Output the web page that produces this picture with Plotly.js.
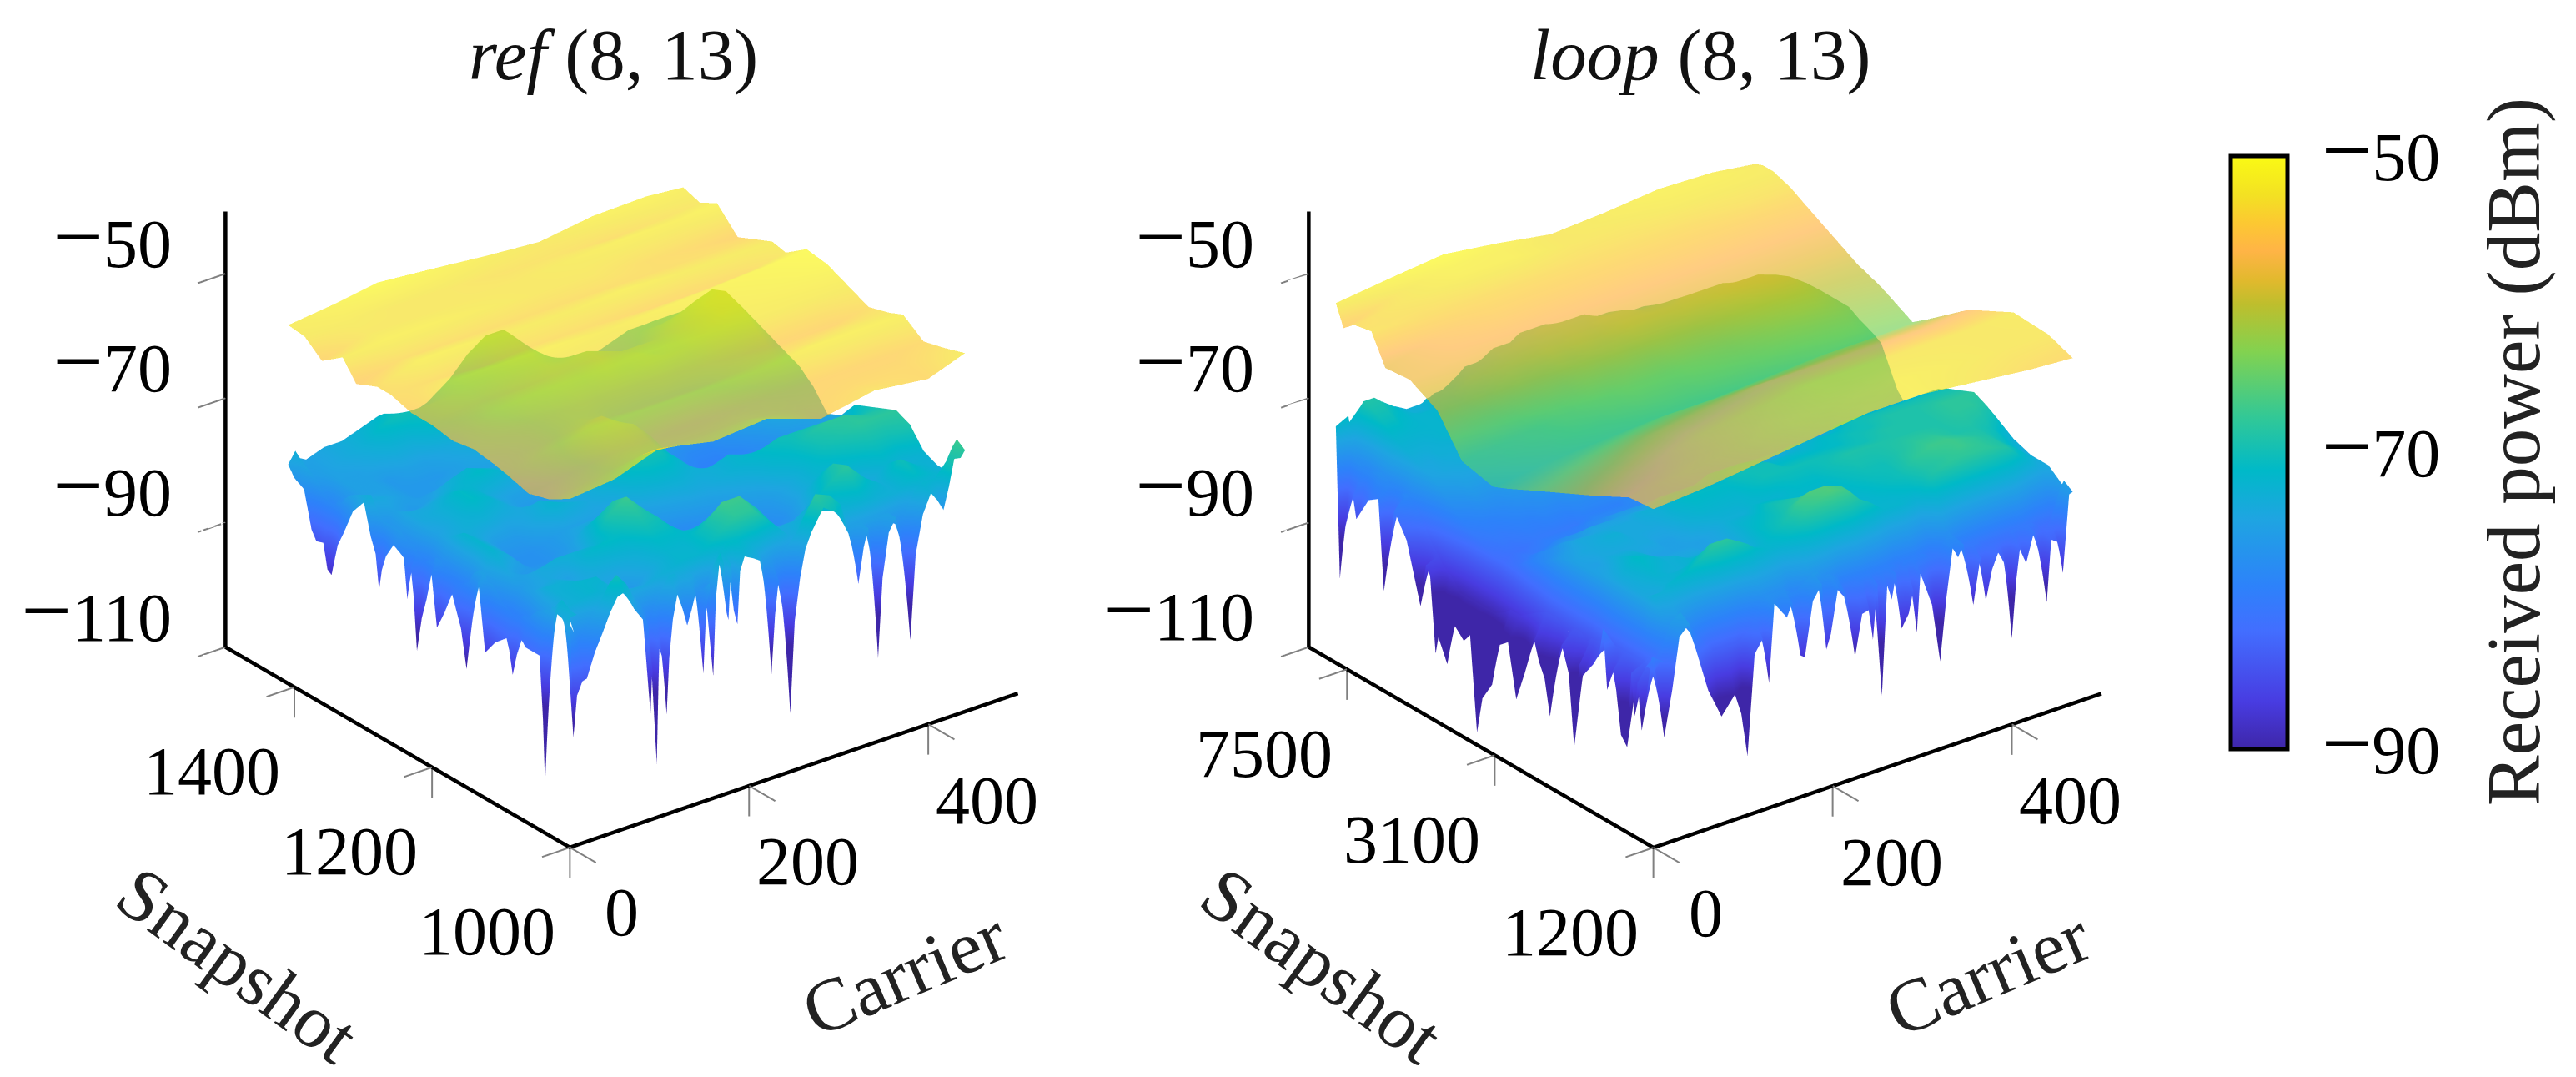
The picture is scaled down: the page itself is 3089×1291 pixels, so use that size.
<!DOCTYPE html>
<html><head><meta charset="utf-8"><script src="https://cdn.plot.ly/plotly-3.0.1.min.js"></script>
<style>html,body{margin:0;padding:0;background:#fff}</style></head><body><div id="c" style="width:3089px;height:1291px"></div>
<script>
// ---- data (dBm) ----
// ref: lower surface, interior
var refCarrierLow=[8,20,40,60,80,100,120,140,160,180,200,220,240,260,280,300,320,340,360,380,400,420,441];
var refSnapLow=[1012,1020,1040,1060,1080,1100,1120,1140,1160,1180,1200,1220,1240,1260,1280,1300,1320,1340,1360,1380,1400,1409];
var refLow=[
[-74,-80,-75,-71,-76,-80,-74,-75,-78,-73,-72,-74,-78,-75,-69,-70,-76,-76,-76,-78,-73,-73,-68],
[-73,-73,-72,-73,-74,-74,-73,-72,-72,-70,-68,-68,-71,-74,-72,-72,-73,-72,-73,-73,-71,-72,-73],
[-76,-73,-72,-72,-75,-76,-74,-72,-72,-70,-67,-67,-70,-74,-74,-72,-70,-68,-71,-73,-70,-72,-73],
[-78,-73,-73,-74,-74,-74,-73,-71,-71,-72,-71,-71,-73,-76,-77,-76,-72,-69,-72,-74,-72,-73,-72],
[-80,-75,-74,-75,-72,-71,-71,-69,-70,-73,-75,-76,-77,-78,-78,-77,-74,-72,-72,-71,-70,-70,-69],
[-80,-76,-74,-73,-73,-73,-69,-67,-70,-75,-77,-78,-78,-78,-77,-76,-74,-72,-70,-69,-68,-68,-68],
[-78,-74,-76,-76,-76,-75,-71,-69,-72,-76,-78,-78,-77,-76,-75,-74,-72,-71,-69,-68,-68,-69,-69],
[-76,-72,-74,-77,-77,-76,-74,-73,-75,-77,-76,-75,-74,-74,-73,-72,-71,-70,-70,-70,-71,-71,-70],
[-80,-72,-74,-77,-77,-76,-75,-75,-75,-75,-73,-72,-72,-73,-73,-72,-73,-74,-74,-74,-74,-73,-71],
[-80,-72,-74,-76,-76,-74,-72,-73,-74,-73,-71,-70,-70,-72,-75,-77,-79,-79,-78,-78,-77,-76,-74],
[-78,-74,-73,-73,-74,-74,-73,-75,-74,-72,-69,-68,-69,-72,-75,-78,-80,-80,-79,-78,-76,-75,-75],
[-80,-75,-73,-71,-72,-74,-76,-76,-74,-71,-68,-67,-68,-71,-75,-78,-79,-79,-78,-76,-73,-72,-72],
[-78,-74,-73,-71,-72,-74,-75,-75,-73,-71,-68,-67,-69,-72,-75,-77,-78,-78,-76,-73,-71,-70,-70],
[-77,-74,-74,-73,-72,-71,-72,-74,-73,-72,-70,-69,-70,-72,-73,-74,-75,-75,-73,-70,-68,-67,-69],
[-77,-75,-76,-75,-73,-72,-73,-74,-74,-73,-71,-70,-70,-71,-71,-71,-70,-70,-69,-67,-66,-65,-68],
[-74,-74,-75,-76,-76,-75,-75,-75,-74,-73,-71,-70,-69,-69,-68,-68,-67,-67,-67,-65,-63,-63,-67],
[-75,-75,-75,-76,-76,-76,-75,-74,-73,-72,-70,-69,-68,-68,-66,-67,-67,-68,-67,-65,-63,-62,-66],
[-78,-75,-75,-76,-75,-75,-74,-73,-72,-71,-69,-68,-67,-67,-66,-67,-68,-68,-68,-66,-64,-63,-67],
[-79,-75,-75,-74,-73,-73,-71,-70,-70,-70,-69,-68,-67,-68,-68,-69,-70,-70,-70,-68,-67,-66,-69],
[-76,-75,-74,-73,-71,-70,-70,-70,-70,-70,-69,-67,-66,-68,-70,-72,-72,-72,-72,-70,-70,-69,-72],
[-75,-75,-74,-73,-72,-71,-72,-72,-71,-70,-68,-66,-65,-68,-71,-73,-74,-74,-73,-72,-71,-71,-73],
[-74,-75,-74,-74,-73,-72,-73,-74,-72,-70,-67,-65,-65,-69,-72,-74,-75,-74,-73,-72,-72,-72,-75]];
// ref: lower surface, front edge (snapshot 1000) with its spikes
var refFrontX=[0,2,4,8,14,19,28,36,45,53,61,72,82,88,90,92,95,97,99,100,104,108,111,115,120,126,131,136,140,145,149,152,156,158,160,163,168,172,175,177,180,183,187,190,195,205,215,220,225,229,233,240,246,251,257,263,270,283,299,311,317,322,328,333,339,344,349,356,364,372,380,386,394,403,410,417,423,429,436,441];
var refFrontY=[1000,1012];
var refFront=[
[-73,-82,-92.5,-86,-84,-83.8,-80,-77.5,-74.5,-72.4,-72,-75.3,-77.5,-79,-93,-86,-90,-101.4,-88,-83,-85,-94,-85,-79,-75.3,-78,-80.8,-78.5,-76.3,-79,-89.4,-80,-75.3,-80,-90.4,-78,-71,-73,-81,-82.2,-73.5,-81,-83.4,-75,-72.9,-73.7,-74.7,-82,-93.3,-84,-78.6,-86,-100.7,-86,-79.4,-75,-72.6,-69.4,-71,-75,-78.5,-83.6,-78,-75.2,-83,-96.6,-84,-77,-75,-81,-95.5,-82,-76,-73,-74.5,-76.4,-73,-68.8,-69,-68],
[-74,-74,-74,-75,-77,-79,-77,-75,-73,-71,-70,-72,-75,-76,-77,-77,-78,-78,-79,-79,-77,-76,-75,-74,-73,-73,-74,-74,-74,-74,-75,-76,-77,-77,-77,-76,-74,-73,-72,-72,-72,-71,-71,-71,-71,-72,-73,-73,-74,-75,-76,-77,-76,-75,-74,-73,-71,-68,-69,-71,-74,-75,-75,-75,-75,-75,-75,-75,-75,-76,-77,-75,-73,-72,-72,-72,-71,-70,-68,-67]];
// ref: lower surface, side edge (carrier 0) with its spikes
var refSideX=[0,8];
var refSideY=[1000,1008,1022,1028,1033,1036,1039,1044,1056,1064,1070,1077,1083,1088,1092,1108,1123,1130,1133,1142,1150,1158,1171,1182,1193,1197,1201,1205,1208,1215,1222,1227,1231,1236,1241,1246,1256,1267,1273,1277,1282,1289,1299,1315,1329,1337,1342,1346,1352,1358,1368,1375,1386,1400,1409];
var refSideA=[-73,-74,-73.6,-82,-94,-102.2,-92,-82,-82,-82,-81.2,-84,-87.6,-84,-82.3,-84,-86.6,-79,-75.9,-83,-91,-85,-80.3,-84,-87.1,-83,-78.9,-81,-83.5,-87,-92.7,-84,-79.9,-85.3,-79,-78.6,-77.9,-80.4,-83,-86.5,-81,-78.7,-73.8,-76.3,-80.8,-83.1,-86,-88.5,-88,-84.1,-84.5,-83.1,-77.3,-76.4,-74.8];
var refSideB=[-73,-73,-72,-73,-74,-74,-75,-75,-76,-77,-78,-78,-79,-79,-79,-78,-76,-76,-75,-75,-76,-78,-79,-79,-78,-77,-77,-77,-78,-78,-79,-78,-78,-77,-77,-77,-76,-76,-76,-76,-76,-75,-73,-74,-75,-76,-77,-77,-78,-78,-77,-76,-75,-74,-73];
// ref: upper surface
var refCarrierUp=[0,50,100,160,220,280,340,400,441];
var refSnapUp=[1000,1030,1060,1090,1110,1140,1170,1200,1230,1260,1280,1310,1330,1360,1385,1409];
var refUp=[
[-54,-53.3,-50.8,-52.7,-52,-55,-53.4,-54.5,-52.4],
[-56,-55,-54,-54,-54,-55,-54.5,-54.5,-53.5],
[-57,-56,-55,-55,-55,-55,-55,-55,-54.4],
[-56,-54,-53,-53,-53,-53,-52,-52,-52],
[-55.5,-55,-54,-54.5,-54.5,-54,-53.5,-53,-53],
[-55,-54.5,-54,-54,-54,-54.5,-55,-55,-54],
[-55.6,-53,-52.5,-52.5,-52,-52.5,-52.5,-52.5,-52.5],
[-55,-54,-54,-53.5,-53.5,-53,-52,-51.5,-51],
[-55,-52,-52,-52,-52.5,-52,-51.5,-51,-50.5],
[-54,-54,-54.5,-54,-54,-54.5,-54.5,-54,-53],
[-54,-52,-52,-52.5,-52.5,-52,-52.5,-52.5,-52.5],
[-55.5,-54,-54,-54,-54,-54,-54,-54,-54],
[-52.5,-52,-52,-52.5,-53,-53,-54,-54.5,-55],
[-55,-53,-53,-53,-53,-52.5,-52,-52,-51.5],
[-52.7,-52.5,-53,-53,-53.5,-53.5,-54,-53.5,-53],
[-52.4,-51.6,-50.5,-51.3,-52.2,-52.9,-51.7,-51.5,-52.1]];

// loop: lower surface, interior
var loopCarrierLow=[14,27,39,47,66,78,89,97,109,121,132,140,156,167,187,197,210,225,245,257,268,284,303,323,338,358,377,404,424,443,459,468];
var loopSnapLow=[1265,1388,1447,1541,1710,1913,2063,2240,2436,2681,2877,3127,3426,3771,4098,4362,4740,5152,5597,5963,6480,7188,7655,7850,7980];
var loopLow=[
[-82,-78,-76,-78,-82,-84,-84,-84,-84,-81,-78,-78,-78,-80,-77,-78,-79,-82,-80,-80,-80,-81,-80,-82,-78,-81,-82,-82,-81,-83,-82,-76],
[-84,-73,-73,-72,-71,-70,-69,-68,-68,-69,-70,-71,-72,-72,-70,-68,-67,-66,-67,-69,-70,-72,-72,-73,-69,-68,-68,-68,-69,-72,-74,-74],
[-84,-74,-74,-73,-72,-71,-70,-69,-69,-70,-71,-72,-72,-71,-69,-67,-66,-66,-67,-69,-71,-72,-72,-71,-69,-68,-67,-68,-69,-71,-73,-74],
[-84,-74,-73,-72,-73,-73,-72,-72,-72,-72,-73,-74,-73,-71,-70,-69,-68,-69,-70,-71,-72,-72,-71,-70,-68,-67,-67,-68,-69,-71,-73,-74],
[-84,-74,-72,-71,-72,-73,-73,-74,-74,-74,-75,-75,-74,-72,-71,-70,-70,-71,-72,-72,-72,-71,-70,-70,-69,-68,-68,-69,-69,-70,-72,-73],
[-86,-75,-74,-73,-73,-74,-75,-75,-75,-75,-75,-75,-74,-73,-73,-72,-72,-72,-71,-71,-71,-70,-69,-69,-69,-69,-69,-69,-68,-68,-69,-71],
[-85,-75,-75,-74,-74,-74,-74,-74,-75,-75,-74,-73,-72,-72,-72,-72,-71,-70,-70,-70,-70,-70,-70,-70,-70,-69,-69,-69,-68,-68,-68,-70],
[-85,-75,-74,-74,-73,-73,-74,-74,-74,-74,-73,-72,-71,-71,-71,-71,-70,-70,-70,-71,-71,-71,-71,-71,-70,-70,-69,-69,-69,-69,-69,-70],
[-85,-76,-75,-74,-74,-74,-74,-74,-74,-73,-73,-72,-72,-72,-72,-72,-71,-71,-71,-72,-72,-72,-72,-71,-71,-70,-70,-70,-70,-70,-70,-71],
[-87,-78,-77,-76,-76,-75,-75,-75,-75,-75,-75,-75,-74,-74,-74,-74,-73,-73,-73,-74,-74,-74,-73,-73,-73,-72,-72,-72,-72,-72,-72,-72],
[-88,-79,-78,-78,-77,-77,-77,-77,-77,-76,-76,-76,-76,-76,-76,-76,-76,-75,-75,-75,-75,-75,-75,-75,-75,-75,-74,-74,-74,-74,-74,-74],
[-89,-81,-80,-80,-79,-79,-79,-79,-78,-78,-78,-78,-78,-78,-78,-78,-78,-78,-78,-78,-78,-78,-78,-78,-78,-78,-78,-78,-78,-78,-78,-79],
[-90,-82,-81,-81,-80,-80,-80,-80,-80,-79,-79,-79,-79,-78,-78,-78,-77,-76,-76,-76,-76,-76,-75,-75,-75,-74,-74,-74,-74,-74,-75,-76],
[-90,-81,-80,-80,-79,-79,-78,-78,-78,-77,-77,-77,-76,-75,-75,-74,-74,-73,-73,-72,-72,-72,-72,-71,-71,-71,-70,-68,-67,-67,-68,-70],
[-90,-80,-79,-79,-78,-77,-77,-76,-76,-75,-74,-74,-73,-72,-72,-72,-71,-71,-70,-70,-70,-69,-69,-69,-69,-68,-67,-66,-66,-66,-67,-69],
[-88,-79,-78,-77,-77,-76,-75,-75,-74,-74,-73,-72,-71,-71,-71,-70,-70,-69,-69,-69,-69,-68,-68,-68,-68,-67,-65,-64,-64,-65,-66,-68],
[-86,-77,-76,-75,-75,-74,-74,-73,-73,-72,-72,-71,-70,-70,-69,-69,-69,-68,-68,-68,-68,-67,-67,-67,-67,-65,-64,-63,-63,-64,-66,-68],
[-82,-75,-74,-74,-73,-73,-73,-72,-72,-72,-71,-71,-70,-70,-69,-68,-68,-68,-67,-67,-67,-66,-66,-66,-65,-64,-63,-62,-62,-64,-66,-68],
[-79,-74,-74,-73,-73,-72,-72,-72,-72,-71,-71,-70,-70,-69,-69,-68,-67,-67,-66,-66,-65,-65,-65,-64,-64,-63,-62,-62,-63,-65,-67,-69],
[-80,-73,-73,-73,-72,-72,-72,-71,-71,-71,-70,-70,-69,-69,-68,-67,-67,-66,-66,-65,-64,-64,-64,-64,-63,-63,-63,-65,-66,-68,-69,-70],
[-78,-72,-72,-72,-72,-72,-71,-71,-71,-70,-70,-69,-68,-68,-67,-66,-66,-65,-65,-64,-64,-64,-65,-65,-65,-66,-67,-68,-69,-70,-71,-72],
[-80,-70,-70,-71,-72,-72,-72,-71,-71,-70,-69,-69,-68,-67,-66,-66,-65,-65,-65,-65,-66,-66,-67,-67,-68,-68,-69,-70,-71,-72,-73,-74],
[-78,-69,-69,-70,-72,-73,-73,-72,-71,-71,-70,-69,-68,-67,-67,-66,-66,-66,-67,-67,-68,-68,-69,-69,-70,-70,-71,-72,-72,-73,-74,-75],
[-76,-69,-69,-70,-72,-73,-73,-72,-72,-71,-70,-69,-69,-68,-68,-67,-67,-68,-68,-69,-69,-70,-70,-70,-71,-71,-72,-72,-73,-74,-74,-75],
[-72,-70,-70,-71,-72,-73,-73,-73,-72,-72,-71,-70,-70,-69,-69,-68,-68,-69,-69,-70,-70,-71,-71,-71,-72,-72,-73,-73,-74,-75,-75,-76]];
// loop: lower surface, front edge (snapshot 1200)
var loopFrontX=[0,12,21,29,40,47,61,76,91,98,105,113,122,129,135,149,155,164,169,178,188,193,198,206,215,225,233,241,245,250,255,261,266,271,277,285,290,294,298,311,320,327,334,340,346,351,357,365,371,378,385,395,400,405,409,416,425,432,439,444,452,457,464,468];
var loopFrontY=[1200,1265];
var loopFront=[
[-79.5,-92.9,-85.7,-77.6,-76,-80.3,-87.7,-92.7,-89.9,-93.3,-100.5,-84.5,-82.5,-89.9,-77.5,-80.4,-78.4,-87.2,-87.8,-79.2,-77,-87.7,-85.5,-78.6,-80,-90.5,-84,-83.7,-88.7,-80,-98.2,-80.6,-83.3,-79.4,-88.5,-86.5,-83,-90,-80.7,-86.4,-95.9,-86,-78.4,-80.2,-78.4,-83,-88.7,-81.4,-88.7,-84,-81.6,-84.8,-96.2,-87,-82.3,-84.9,-80.2,-85,-92.3,-82.5,-83.3,-88.5,-76.2,-76],
[-82,-81,-79,-76,-75,-77,-80,-83,-83,-83,-83,-82,-80,-78,-77,-77,-77,-78,-78,-77,-76,-76,-77,-77,-78,-81,-80,-79,-79,-79,-79,-79,-79,-79,-79,-80,-79,-79,-79,-79,-80,-80,-78,-77,-78,-79,-80,-80,-80,-81,-81,-81,-81,-81,-80,-80,-80,-80,-81,-82,-81,-79,-76,-75]];
// loop: lower surface, side edge (carrier 0)
var loopSideX=[0,14];
var loopSideY=[1200,1212,1287,1320,1342,1370,1404,1457,1500,1530,1582,1621,1660,1717,1835,1872,1927,1990,2076,2150,2227,2300,2379,2448,2593,2725,2863,3034,3149,3336,3446,3592,3728,3966,4116,4342,4414,4562,4676,4832,5249,5652,6012,6216,6588,7092,7236,7632,7824,8016];
var loopSideA=[-79.5,-79.5,-92.3,-85,-90.6,-84,-96.3,-94.9,-88,-85.3,-89,-79.5,-84,-86.1,-89.1,-87.7,-101.3,-90,-86,-90,-98.6,-93,-90.8,-87.8,-94.1,-99,-90.6,-92,-98.9,-102,-108,-93,-94.5,-92.7,-99.8,-96.3,-99.2,-87.2,-85.9,-93,-83.7,-80.1,-94,-79.7,-80.8,-85,-81.6,-88.2,-96.1,-72];
var loopSideB=[-81,-81,-81,-82,-82,-83,-83,-83,-83,-83,-83,-83,-83,-83,-84,-84,-85,-84,-84,-85,-85,-84,-84,-84,-85,-86,-87,-87,-88,-89,-89,-89,-89,-89,-89,-87,-87,-86,-85,-84,-80,-78,-79,-78,-77,-78,-78,-77,-75,-71];
// loop: upper surface
var loopCarrierUp=[0,60,120,180,240,300,360,420,468];
var loopSnapUp=[1200,1388,1710,2240,2877,3127,3771,4362,5152,5963,6480,7188,7655,8016];
var loopUp=[
[-55.6,-55,-54,-53,-52,-52,-53,-54,-54.5],
[-56,-55,-54,-53,-52.5,-52,-52.5,-53,-53],
[-59,-57,-55,-54,-53,-53,-53,-53,-52.7],
[-62.6,-61,-59,-58,-57,-57,-57,-57,-56.5],
[-66,-65,-64,-63,-63,-62.5,-62,-62,-62],
[-67,-66,-65.5,-65,-65,-64.5,-64,-64,-63.7],
[-65.8,-65,-64,-63,-63,-62,-62,-61.5,-61],
[-60,-60,-60,-59.5,-59.5,-59.5,-59.5,-59.5,-59.5],
[-57.6,-57,-57,-57,-57,-57,-57,-57,-57],
[-58,-56,-55,-55,-55,-55,-55,-55,-54.8],
[-53.4,-54,-54,-54,-54,-54,-54,-53.5,-53.5],
[-54,-53,-52,-52,-53,-53,-52.5,-52.5,-52.5],
[-55.5,-53,-51.5,-52,-53,-52.5,-52,-52,-52.5],
[-52.2,-51.2,-50.3,-51.5,-53,-52.5,-51.7,-52,-53]];

var carrierTicks=[0,200,400];
var powerTicks=[-110,-90,-70,-50];
var refSnapTicks=[1000,1200,1400];
var loopSnapTicks=[1200,3100,7500];
var barTicks=[-90,-70,-50];
var titles=['ref','loop'];
var parula=[[0,'rgb(62,38,168)'],[.08,'rgb(72,60,225)'],[.2,'rgb(66,110,255)'],[.275,'rgb(45,130,250)'],[.39,'rgb(30,165,225)'],[.47,'rgb(0,185,200)'],[.56,'rgb(50,200,150)'],[.67,'rgb(130,210,80)'],[.75,'rgb(190,190,45)'],[.79,'rgb(225,185,45)'],[.84,'rgb(255,180,70)'],[.887,'rgb(252,200,50)'],[.934,'rgb(243,225,35)'],[1,'rgb(250,250,20)']];

// ---- layout helpers ----
var W=3089,H=1291,FONT='"Liberation Serif",serif',FS=82,K=1.35;
var lit={ambient:1,diffuse:0,specular:0,roughness:1,fresnel:0};
var off={show:false,highlight:false};
function minus(v){return v<0?'<span style="font-size:'+Math.round(FS*1.32)+'px">\u2212</span>'+(-v):''+v;}
function pairCols(a,b){return a.map(function(v,i){return [v,b[i]];});}
function scene(cx,cy,yaxis){return {domain:{x:[(cx-540)/W,(cx+540)/W],y:[(H-cy-540)/H,(H-cy+540)/H]},
 camera:{eye:{x:-.545*2,y:-.709*2,z:.447*2},center:{x:0,y:0,z:0},up:{x:0,y:0,z:1},projection:{type:'orthographic'}},
 aspectmode:'manual',aspectratio:{x:.989*K,y:1*K,z:.858*K},
 xaxis:{range:[-32,500],visible:false},yaxis:yaxis,zaxis:{range:[-115,-40],visible:false}};}
function surf(s,x,y,z,op,extra){var t={type:'surface',scene:s,x:x,y:y,z:z,cmin:-90,cmax:-50,colorscale:parula,showscale:false,opacity:op,lighting:lit,contours:{x:off,y:off,z:off},hoverinfo:'skip'};
 for(var k in extra)t[k]=extra[k];return t;}
function lines(s,y0,y1,yLow,snapTicks){
 var ax={type:'scatter3d',mode:'lines',scene:s,x:[500,0,0,0],y:[y0,y0,y1,y1],z:[-110,-110,-110,-40],line:{color:'#000',width:9},showlegend:false,hoverinfo:'skip'};
 var tx=[],ty=[],tz=[];
 function seg(a,b,c,d,e,f){tx.push(a,d,null);ty.push(b,e,null);tz.push(c,f,null);}
 carrierTicks.forEach(function(v){seg(v,y0,-110,v,yLow,-110);seg(v,y0,-110,v,y0,-114.9);});
 snapTicks.forEach(function(v){seg(0,v,-110,-31,v,-110);seg(0,v,-110,0,v,-114.9);});
 powerTicks.forEach(function(v){seg(0,y1,v,-31,y1,v);});
 return [ax,{type:'scatter3d',mode:'lines',scene:s,x:tx,y:ty,z:tz,connectgaps:false,line:{color:'#808080',width:4},showlegend:false,hoverinfo:'skip'}];}
function labels(y0,y1,snapTicks,yf){var a=[];
 function add(x,y,z,t,xa,xs,ys){a.push({x:x,y:yf(y),z:z,text:t,showarrow:false,xanchor:xa,yanchor:'middle',xshift:xs,yshift:ys,font:{family:FONT,size:FS,color:'#000'}});}
 powerTicks.forEach(function(v){add(0,y1,v,minus(v),'right',-63,45);});
 snapTicks.forEach(function(v){add(0,v,-110,''+v,'right',-15,-101);});
 carrierTicks.forEach(function(v){if(v==0)add(v,y0,-110,'0','center',63,-78);else add(v,y0,-110,''+v,'center',71,-91);});
 return a;}
function axTitles(yMid,y0){var f={family:FONT,size:90,color:'#222'};return [
 {x:0,y:yMid,z:-110,text:'Snapshot',textangle:36,showarrow:false,xshift:-191,yshift:-261,font:f},
 {x:250,y:y0,z:-110,text:'Carrier',textangle:-23,showarrow:false,xshift:133,yshift:-243,font:f}];}

var barColor={x:2675/W,xanchor:'left',xpad:0,ypad:0,y:(H-898)/H,yanchor:'bottom',len:711,lenmode:'pixels',thickness:68,thicknessmode:'pixels',
 outlinecolor:'#000',outlinewidth:5,borderwidth:0,tickmode:'array',tickvals:barTicks,ticktext:barTicks.map(minus),ticks:'outside',ticklen:22,tickcolor:'rgba(0,0,0,0)',
 tickfont:{family:FONT,size:FS,color:'#000'}};

var lgY=[Math.log10(1028),Math.log10(9423)];
var sL=scene(743.5,576,{range:[962,1500],visible:false});
var sR=scene(2042.5,576,{type:'log',range:lgY,visible:false});
sL.annotations=labels(1000,1499,refSnapTicks,function(v){return v;}).concat(axTitles(1250,1000));
sR.annotations=labels(1200,9400,loopSnapTicks,Math.log10).concat(axTitles(3.5267,Math.log10(1200)));

var traces=[
 surf('scene',refCarrierLow,refSnapLow,refLow,1,{showscale:true,colorbar:barColor}),
 surf('scene',refFrontX,refFrontY,refFront,1),
 surf('scene',refSideX,refSideY,pairCols(refSideA,refSideB),1),
 surf('scene',refCarrierUp,refSnapUp,refUp,.68)]
 .concat(lines('scene',1000,1500,962,refSnapTicks))
 .concat([surf('scene2',loopCarrierLow,loopSnapLow,loopLow,1),
 surf('scene2',loopFrontX,loopFrontY,loopFront,1),
 surf('scene2',loopSideX,loopSideY,pairCols(loopSideA,loopSideB),1),
 surf('scene2',loopCarrierUp,loopSnapUp,loopUp,.68)])
 .concat(lines('scene2',1200,9423,1028,loopSnapTicks));

function para(x,y,t,size,angle,col){return {xref:'paper',yref:'paper',x:x/W,y:(H-y)/H,xanchor:'center',yanchor:'middle',text:t,textangle:angle,showarrow:false,font:{family:FONT,size:size,color:col}};}
Plotly.newPlot('c',traces,{width:W,height:H,margin:{l:0,r:0,t:0,b:0},showlegend:false,paper_bgcolor:'#fff',font:{family:FONT},
 scene:sL,scene2:sR,
 annotations:[
 para(735,65,'<i>'+titles[0]+'</i> (8, 13)',87,0,'#111'),
 para(2039,65,'<i>'+titles[1]+'</i> (8, 13)',87,0,'#111'),
 para(3014,542,'Received power (dBm)',91,-90,'#222')]
},{displayModeBar:false});
</script></body></html>
